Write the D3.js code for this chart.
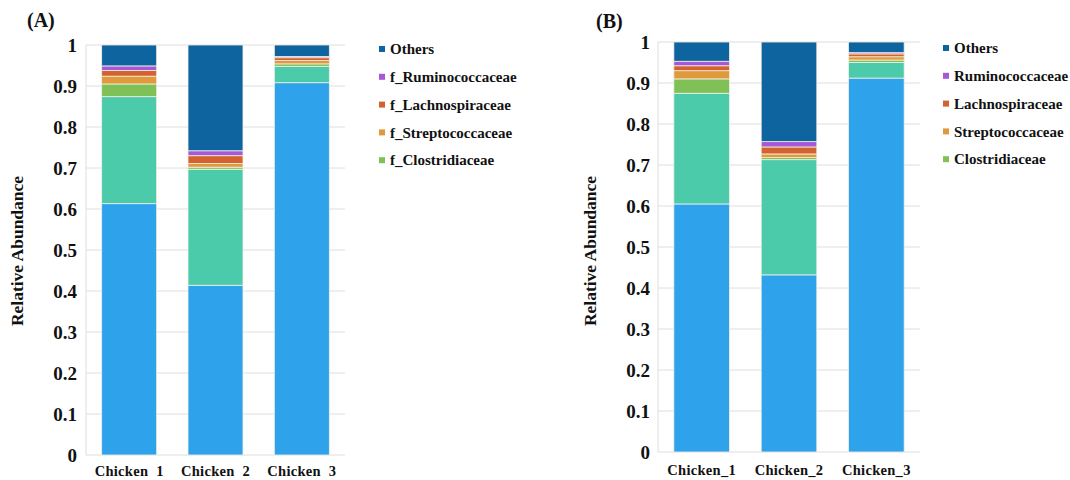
<!DOCTYPE html>
<html><head><meta charset="utf-8">
<script src="https://cdn.jsdelivr.net/npm/d3@7"></script>
<style>
body{margin:0;background:#fff;}
svg{display:block;font-family:"Liberation Serif","Times New Roman",serif;font-weight:bold;}
</style></head>
<body><svg id="c" width="1070" height="480"></svg>
<script>
const categoriesA = ["Chicken  1", "Chicken  2", "Chicken  3"];
const categoriesB = ["Chicken_1", "Chicken_2", "Chicken_3"];
const seriesKeys = ["s1", "s2", "Clostridiaceae", "Streptococcaceae", "Lachnospiraceae", "Ruminococcaceae", "Others"];
const seriesColors = ["#2fa2ec", "#4ccbab", "#7fc156", "#e09a3b", "#d4622e", "#a659d6", "#0e649e"];
// Panel A values (per sample, bottom to top)
const aS1 = [0.613, 0.414, 0.908];
const aS2 = [0.261, 0.283, 0.040];
const aClos = [0.031, 0.005, 0.006];
const aStrep = [0.019, 0.009, 0.008];
const aLach = [0.014, 0.019, 0.007];
const aRum = [0.011, 0.012, 0.003];
const aOthers = [0.051, 0.258, 0.028];
// Panel B values
const bS1 = [0.605, 0.432, 0.912];
const bS2 = [0.270, 0.281, 0.038];
const bClos = [0.035, 0.005, 0.006];
const bStrep = [0.020, 0.009, 0.008];
const bLach = [0.012, 0.017, 0.007];
const bRum = [0.011, 0.013, 0.003];
const bOthers = [0.047, 0.243, 0.026];
const yTicks = [0, 0.1, 0.2, 0.3, 0.4, 0.5, 0.6, 0.7, 0.8, 0.9, 1];
const legendA = ["Others", "f_Ruminococcaceae", "f_Lachnospiraceae", "f_Streptococcaceae", "f_Clostridiaceae"];
const legendB = ["Others", "Ruminococcaceae", "Lachnospiraceae", "Streptococcaceae", "Clostridiaceae"];
const legendColors = ["#0e649e", "#a659d6", "#d4622e", "#e09a3b", "#7fc156"];

const svg = d3.select("#c");

function panel(cfg){
  const cats = cfg.cats;
  const rows = cats.map((c,i)=>{
    const r = {cat:c};
    cfg.series.forEach((arr,k)=>{ r[seriesKeys[k]] = arr[i]; });
    return r;
  });
  const stack = d3.stack().keys(seriesKeys)(rows);
  const x = d3.scaleBand().domain(cats).range([cfg.x0, cfg.x1]).paddingInner(0.363).paddingOuter(0.1815);
  const y = d3.scaleLinear().domain([0,1]).range([cfg.y0, cfg.y1]);
  const g = svg.append("g");
  // grid
  g.append("g").selectAll("line").data(yTicks).join("line")
    .attr("x1", cfg.x0).attr("x2", cfg.x1)
    .attr("y1", d=>y(d)).attr("y2", d=>y(d))
    .attr("stroke", "#dedede").attr("stroke-width", 1);
  g.append("line").attr("x1", cfg.x0).attr("x2", cfg.x0).attr("y1", cfg.y0).attr("y2", cfg.y1)
    .attr("stroke", "#dedede");
  // bars
  g.append("g").selectAll("g").data(stack).join("g")
    .attr("fill", (d,i)=>seriesColors[i])
    .selectAll("rect").data(d=>d).join("rect")
    .attr("x", d=>x(d.data.cat)).attr("width", x.bandwidth())
    .attr("y", d=>y(d[1])).attr("height", d=>y(d[0])-y(d[1]))
    .attr("stroke", "#f3efe6").attr("stroke-width", 0.8);
  // y axis labels
  const ya = d3.axisLeft(y).tickValues(yTicks).tickFormat(d=>d3.format("")(+d.toFixed(1))).tickSize(0).tickPadding(0);
  const yg = g.append("g").attr("transform", `translate(${cfg.tickX},0)`).call(ya);
  yg.select(".domain").remove();
  yg.selectAll("text").attr("font-size", 19).attr("font-weight", "bold").attr("fill", "#111")
    .attr("font-family", "Liberation Serif, serif").attr("dy", "0.35em");
  // x axis labels
  const xa = d3.axisBottom(x).tickSize(0).tickPadding(0);
  const xg = g.append("g").attr("transform", `translate(0,${cfg.labelY})`).call(xa);
  xg.select(".domain").remove();
  xg.selectAll("text").attr("font-size", 14.5).attr("font-weight", "bold").attr("fill", "#111")
    .attr("font-family", "Liberation Serif, serif").attr("dy", 0).style("white-space", "pre")
    .attr("letter-spacing", "0.3px");
  // y title
  g.append("text").attr("transform", `translate(${cfg.titleX},${cfg.titleY}) rotate(-90)`)
    .attr("text-anchor", "middle").attr("font-size", 17.5).attr("fill", "#111").text("Relative Abundance");
  // panel label
  g.append("text").attr("x", cfg.pLabelX).attr("y", cfg.pLabelY).attr("font-size", 20).attr("fill", "#111").text(cfg.pLabel);
  // legend
  const lg = g.append("g");
  cfg.legend.forEach((t,i)=>{
    const yy = cfg.legY + i*27.8;
    lg.append("rect").attr("x", cfg.legX).attr("y", yy-3).attr("width", 6).attr("height", 6).attr("fill", legendColors[i]);
    lg.append("text").attr("x", cfg.legX+11).attr("y", yy).attr("dy", "0.35em").attr("font-size", 15).attr("fill", "#111").text(t);
  });
}

panel({cats:categoriesA, series:[aS1,aS2,aClos,aStrep,aLach,aRum,aOthers],
  x0:86, x1:345, y0:455, y1:45, tickX:77, labelY:476, titleX:23, titleY:251,
  pLabel:"(A)", pLabelX:27, pLabelY:27, legend:legendA, legX:379, legY:49});
panel({cats:categoriesB, series:[bS1,bS2,bClos,bStrep,bLach,bRum,bOthers],
  x0:658, x1:920, y0:452, y1:42, tickX:650, labelY:475, titleX:596, titleY:251,
  pLabel:"(B)", pLabelX:596, pLabelY:28, legend:legendB, legX:943, legY:48});
</script></body></html>
